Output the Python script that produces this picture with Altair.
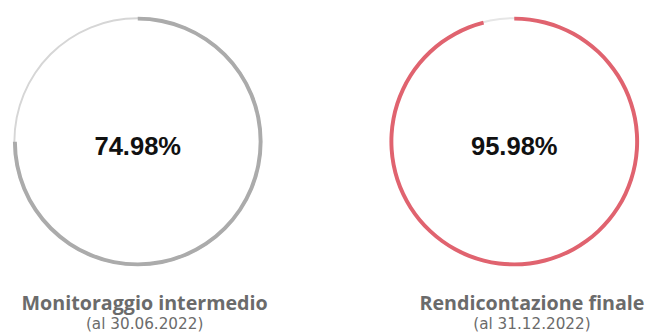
import altair as alt
import pandas as pd

titles = ["Monitoraggio intermedio", "Rendicontazione finale"]
subtitles = ["(al 30.06.2022)", "(al 31.12.2022)"]
values = [74.98, 95.98]
fill_colors = ["#ababab", "#e0636f"]
rest_colors = ["#d6d6d6", "#e6e6e6"]
title_dx = [7, 18]


def donut(i):
    v = values[i]
    df = pd.DataFrame({
        "part": ["done", "rest"],
        "value": [v, round(100 - v, 2)],
    })
    theta_scale = alt.Scale(domain=[0, 100], range=[0, 6.283185307])
    ring = alt.Chart(df).transform_filter("datum.part == 'rest'").transform_calculate(
        full="100"
    ).mark_arc(color=rest_colors[i], radius=126.5, radius2=124.5).encode(
        theta=alt.Theta("full:Q", scale=theta_scale, stack=False),
    )
    arc = alt.Chart(df).transform_filter("datum.part == 'done'").mark_arc(
        color=fill_colors[i], radius=127, radius2=123
    ).encode(
        theta=alt.Theta("value:Q", scale=theta_scale, stack=False),
    )
    label_df = pd.DataFrame({"label": [f"{v:.2f}%"]})
    txt = alt.Chart(label_df).mark_text(
        font="Liberation Sans", fontSize=26, fontWeight="bold", color="#111111",
        baseline="alphabetic", dy=14
    ).encode(text="label:N")
    return alt.layer(ring, arc, txt).properties(
        width=264, height=266,
        title=alt.Title(
            titles[i], subtitle=subtitles[i], orient="bottom", anchor="middle",
            font="Open Sans", fontSize=20, fontWeight="bold", color="#6b6b6b",
            subtitleFont="DejaVu Sans", subtitleFontSize=15.5, subtitleColor="#6b6b6b",
            offset=22, subtitlePadding=4, dx=title_dx[i],
        ),
    )


chart = alt.hconcat(donut(0), donut(1), spacing=118).properties(
    padding=0
).configure_view(stroke=None).configure(background="white")

chart.save("out.html", embed_options={"renderer": "svg", "actions": False})
